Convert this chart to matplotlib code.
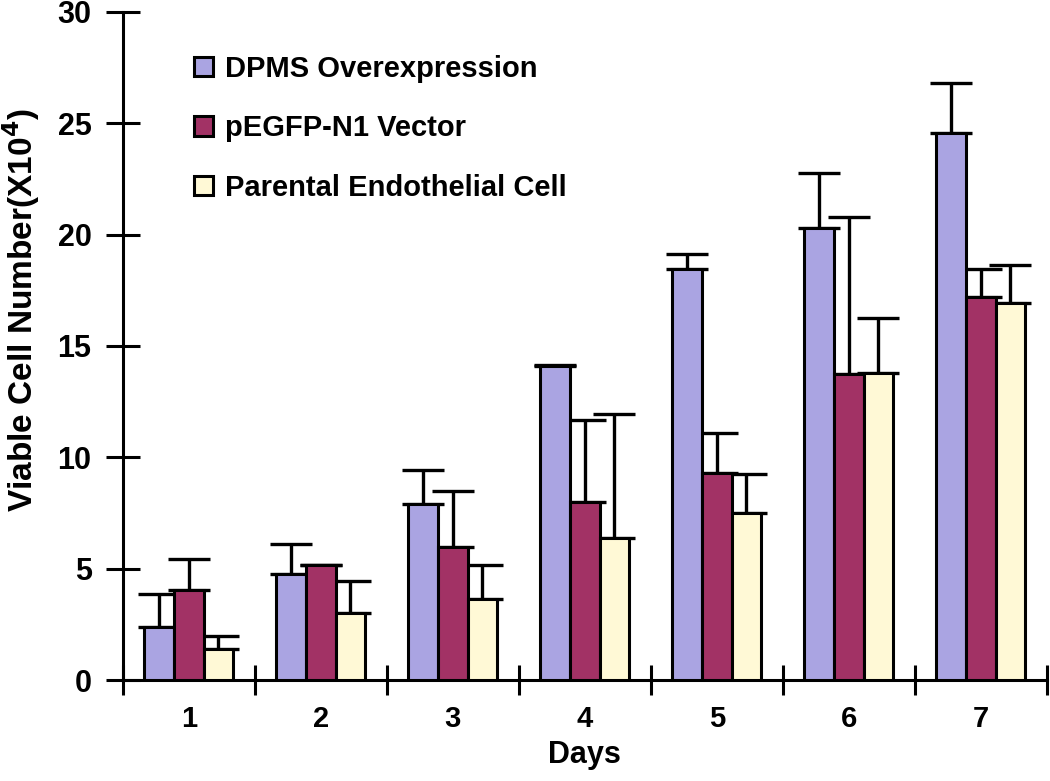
import numpy as np
import matplotlib
matplotlib.use("Agg")
import matplotlib.pyplot as plt

plt.rcParams['font.family'] = ['Liberation Sans', 'DejaVu Sans']
plt.rcParams['font.weight'] = 'bold'

days = ['1', '2', '3', '4', '5', '6', '7']
series = ['DPMS Overexpression', 'pEGFP-N1 Vector', 'Parental Endothelial Cell']

dpms = [2.4, 4.75, 7.9, 14.1, 18.45, 20.3, 24.55]
dpms_err = [1.45, 1.35, 1.55, 0.05, 0.7, 2.45, 2.25]
vector = [4.05, 5.15, 6.0, 8.0, 9.3, 13.75, 17.2]
vector_err = [1.4, 0.0, 2.5, 3.7, 1.8, 7.05, 1.25]
parental = [1.4, 3.0, 3.65, 6.4, 7.5, 13.8, 16.95]
parental_err = [0.6, 1.45, 1.5, 5.55, 1.75, 2.45, 1.7]

colors = ['#aaa4e2', '#a23265', '#fff9d6']

fig = plt.figure(figsize=(10.5, 7.81), dpi=100)
ax = fig.add_axes([0.117, 0.129, 0.88, 0.856])

x = np.arange(len(days))
w = 0.224
vals = [dpms, vector, parental]
errs = [dpms_err, vector_err, parental_err]
for i in range(3):
    ax.bar(x + (i - 1) * w, vals[i], w, color=colors[i], edgecolor='black',
           linewidth=2.2, label=series[i], zorder=3,
           yerr=[np.zeros(len(days)), errs[i]],
           error_kw=dict(ecolor='black', elinewidth=2.4, capsize=15, capthick=2.4, zorder=2))

ax.set_xlim(-0.5, 6.5)
ax.set_ylim(0, 30)
ax.set_yticks(range(0, 31, 5))
ax.set_xticks(x)
ax.set_xticklabels(days)
ax.set_xticks(np.arange(-0.5, 7, 1), minor=True)
ax.tick_params(axis='x', which='major', length=0, labelsize=21, pad=18)
ax.tick_params(axis='x', which='minor', direction='inout', length=22, width=2.2)
ax.tick_params(axis='y', direction='inout', length=25, width=2.2, labelsize=22, pad=10)

for s in ['top', 'right']:
    ax.spines[s].set_visible(False)
for s in ['left', 'bottom']:
    ax.spines[s].set_linewidth(2.2)

ax.set_ylabel('Viable Cell Number(X10$^\\mathbf{4}$)', fontsize=24, fontweight='bold')
ax.yaxis.set_label_coords(-0.087, 0.553)
ax.set_xlabel('Days', fontsize=22, fontweight='bold', labelpad=5)

ax.legend(loc='upper left', bbox_to_anchor=(0.049, 0.975), frameon=False,
          fontsize=21, handlelength=0.65, handleheight=0.65, handletextpad=0.4,
          labelspacing=1.08)

fig.savefig('out.png', dpi=100)
